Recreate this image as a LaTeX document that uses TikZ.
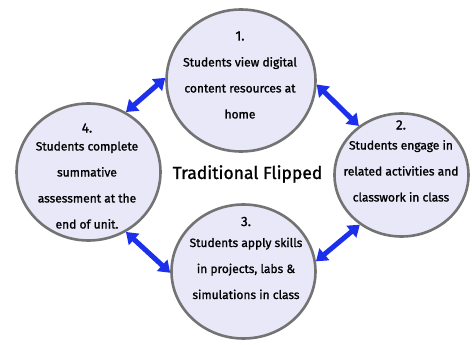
\documentclass[tikz,border=0pt]{standalone}
\usepackage{fontspec}
\setmainfont{Fira Sans}
\newfontfamily\boldish{Fira Sans}[FakeBold=1.2]
\usetikzlibrary{shapes.geometric, arrows.meta, positioning}
\definecolor{phasefill}{RGB}{232, 232, 248}
\definecolor{phaseline}{RGB}{115, 115, 115}
\definecolor{linkblue}{RGB}{28, 48, 235}

\begin{document}
\begin{tikzpicture}[
    x=1pt, y=-1pt,
    phase/.style={draw=phaseline, line width=2.6pt, fill=phasefill, ellipse, inner sep=0pt},
    phasetext/.style={align=center, font=\boldish\fontsize{12}{26}\selectfont, inner sep=0pt},
    link/.style={{Triangle[length=11pt, width=15pt]}-{Triangle[length=11pt, width=15pt]}, line width=5pt, linkblue}
]
    \useasboundingbox (0,0) rectangle (472,345);

    % Circles
    \node[phase, minimum width=149pt, minimum height=142pt] (home) at (241,80.5) {};
    \node[phase, minimum width=134pt, minimum height=123pt] (class) at (401.5,175) {};
    \node[phase, minimum width=144pt, minimum height=134pt] (apply) at (243.5,271.5) {};
    \node[phase, minimum width=144pt, minimum height=137pt] (assess) at (88.5,172) {};

    % Texts
    \node[phasetext] (homet) at (240,75) {{\fontsize{13.5}{26}\selectfont 1.}\\Students view digital\\content resources at\\home};
    \node[phasetext] (classt) at (401,161) {{\fontsize{13.5}{26}\selectfont 2.}\\[-6pt]Students engage in\\related activities and\\classwork in class};
    \node[phasetext] (applyt) at (246,258) {{\fontsize{13.5}{26}\selectfont 3.}\\[-5pt]Students apply skills\\in projects, labs \&\\simulations in class};
    \node[phasetext] (assesst) at (87,176) {{\fontsize{13.5}{26}\selectfont 4.}\\[-8pt]Students complete\\summative\\assessment at the\\end of unit.};
    \node[font=\boldish\fontsize{17.5}{20}\selectfont] (title) at (247.5,174) {Traditional Flipped};

    % Arrows
    \draw[link] (assess.58) -- (home.178);
    \draw[link] (home.-3.5) -- (class.131);
    \draw[link] (class.230) -- (apply.8.5);
    \draw[link] (apply.181) -- (assess.-58);
\end{tikzpicture}
\end{document}
